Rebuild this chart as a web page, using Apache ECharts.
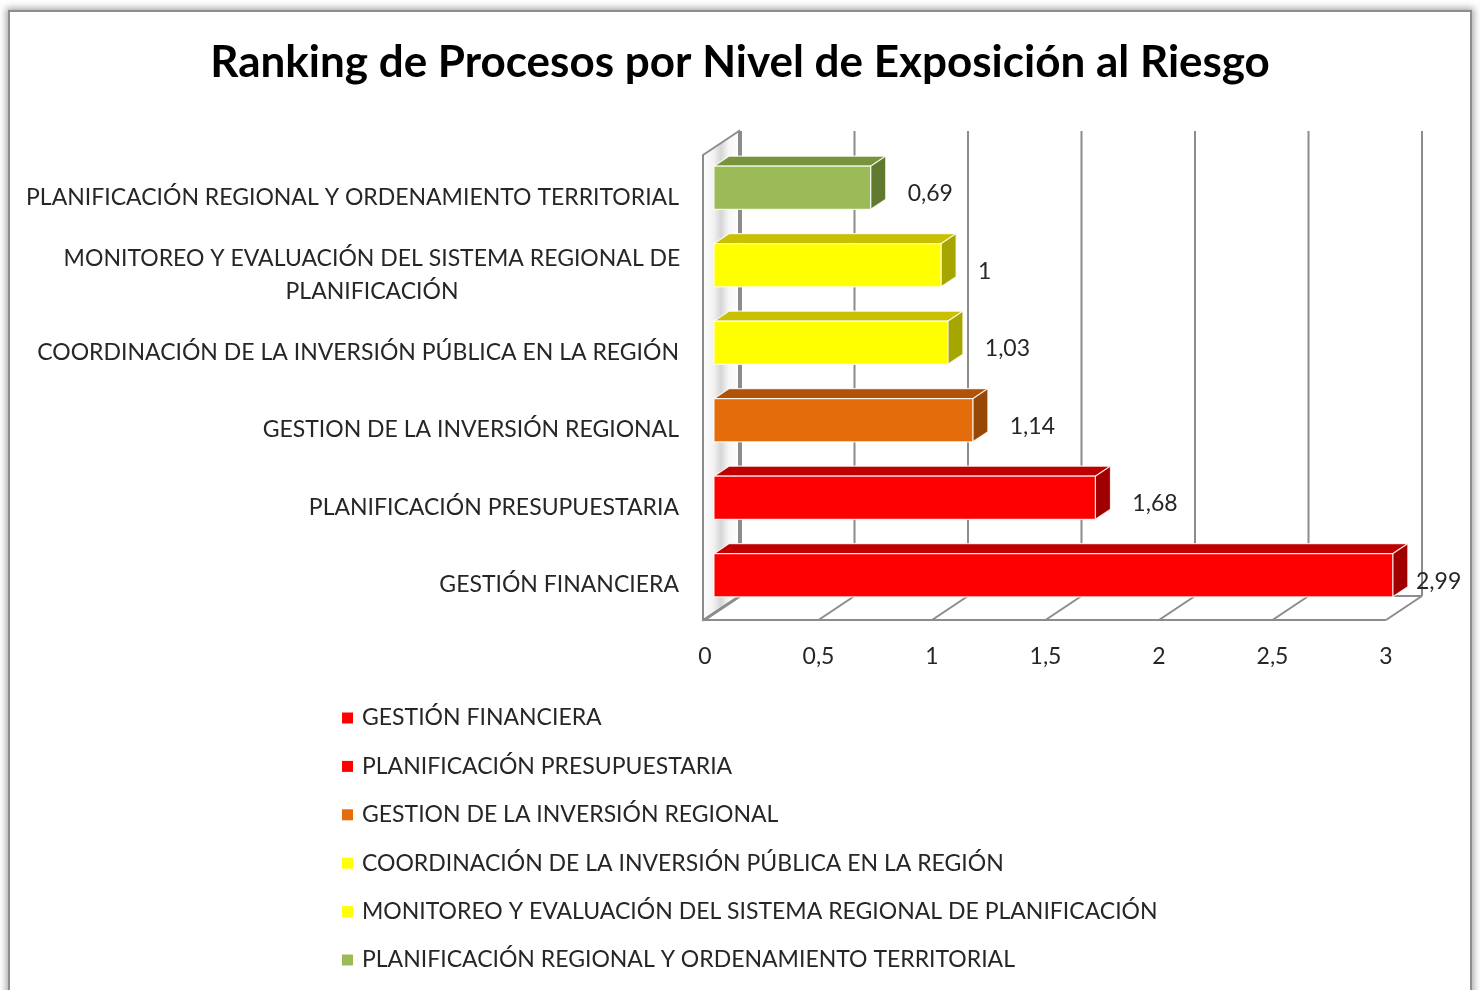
<!DOCTYPE html>
<html>
<head>
<meta charset="utf-8">
<script src="https://cdn.jsdelivr.net/npm/echarts@6/dist/echarts.min.js"></script>
<style>
    html, body { margin: 0; padding: 0; background: #fff; }
    #frame {
        position: absolute; left: 8px; top: 10px; width: 1460px; height: 990px;
        border: 2px solid #8d8d8d; background: #fff;
        box-shadow: 0 0 7px 2px rgba(0, 0, 0, 0.35);
    }
    #chart { position: absolute; left: 0; top: 0; width: 1480px; height: 990px; }
</style>
</head>
<body>
<div id="frame"></div>
<div id="chart"></div>
<script>
// datos (de abajo hacia arriba en el eje)
const categories = [
    'GESTIÓN FINANCIERA',
    'PLANIFICACIÓN PRESUPUESTARIA',
    'GESTION DE LA INVERSIÓN REGIONAL',
    'COORDINACIÓN DE LA INVERSIÓN PÚBLICA EN LA REGIÓN',
    'MONITOREO Y EVALUACIÓN DEL SISTEMA REGIONAL DE PLANIFICACIÓN',
    'PLANIFICACIÓN REGIONAL Y ORDENAMIENTO TERRITORIAL'
];
const values = [2.99, 1.68, 1.14, 1.03, 1, 0.69];
const xTicks = [0, 0.5, 1, 1.5, 2, 2.5, 3];

// colores: frente, tapa, lado
const palette = [
    ['#FF0000', '#C00000', '#A00000'],
    ['#FF0000', '#C00000', '#A00000'],
    ['#E46C0A', '#B0520A', '#974706'],
    ['#FFFF00', '#C8C000', '#A6A600'],
    ['#FFFF00', '#C8C000', '#A6A600'],
    ['#9BBB59', '#77933C', '#5F7A2E']
];

const FONT = 'Lato';
const TXT = '#262626';
const DEPTH = [36, -24];   // profundidad del efecto 3D
const BAR_FRONT = 0.25, BAR_BACK = 0.67;
const fmt = v => String(v).replace('.', ',');

function renderFrame(params, api) {
    const cs = params.coordSys;
    const t = api.value(0);
    const x = api.coord([t, 0])[0];
    const top = cs.y, bottom = cs.y + cs.height;
    const line = { stroke: '#8c8c8c', lineWidth: 2 };
    const children = [
        // linea de la pared del fondo
        { type: 'line', shape: { x1: x + DEPTH[0], y1: top + DEPTH[1], x2: x + DEPTH[0], y2: bottom + DEPTH[1] }, style: line },
        // linea del piso
        { type: 'line', shape: { x1: x, y1: bottom, x2: x + DEPTH[0], y2: bottom + DEPTH[1] }, style: line }
    ];
    if (params.dataIndex === 0) {
        const x0 = cs.x - 2, x1 = cs.x + cs.width;
        children.unshift({
            type: 'polygon',
            shape: { points: [[x0, top], [x0 + DEPTH[0], top + DEPTH[1]], [x0 + DEPTH[0], bottom + DEPTH[1]], [x0, bottom]] },
            style: {
                fill: new echarts.graphic.LinearGradient(0, 0, 1, 0, [
                    { offset: 0, color: '#ffffff' },
                    { offset: 0.3, color: '#f2f2f2' },
                    { offset: 0.5, color: '#d6d6d6' },
                    { offset: 0.7, color: '#f6f6f6' },
                    { offset: 1, color: '#ffffff' }
                ]),
                stroke: '#8c8c8c', lineWidth: 2
            }
        });
        children.push(
            { type: 'line', shape: { x1: x0, y1: bottom, x2: x1, y2: bottom }, style: line },
            { type: 'line', shape: { x1: x0 + DEPTH[0], y1: bottom + DEPTH[1], x2: x1 + DEPTH[0], y2: bottom + DEPTH[1] }, style: line }
        );
    }
    return { type: 'group', children: children };
}

function makeBarRenderer(colors) {
    return function (params, api) {
        const cs = params.coordSys;
        const v = api.value(0), idx = api.value(1);
        const p0 = api.coord([0, idx]), p1 = api.coord([v, idx]);
        const half = api.size([0, 1])[1] * 0.278;
        const fx = DEPTH[0] * BAR_FRONT, fy = DEPTH[1] * BAR_FRONT;
        const dx = DEPTH[0] * (BAR_BACK - BAR_FRONT), dy = DEPTH[1] * (BAR_BACK - BAR_FRONT);
        const xl = p0[0] + fx, xr = p1[0] + fx;
        const yt = p0[1] + fy - half, yb = p0[1] + fy + half;
        const edge = { stroke: 'rgba(255,255,255,0.8)', lineWidth: 1.2 };
        const labelX = Math.min(p1[0] + 46, cs.x + cs.width + 30);
        return {
            type: 'group',
            children: [
                { type: 'polygon', shape: { points: [[xl, yt], [xl + dx, yt + dy], [xr + dx, yt + dy], [xr, yt]] },
                  style: Object.assign({ fill: colors[1] }, edge) },
                { type: 'polygon', shape: { points: [[xr, yt], [xr + dx, yt + dy], [xr + dx, yb + dy], [xr, yb]] },
                  style: Object.assign({ fill: colors[2] }, edge) },
                { type: 'rect', shape: { x: xl, y: yt, width: xr - xl, height: yb - yt },
                  style: Object.assign({ fill: colors[0] }, edge) },
                { type: 'text', style: {
                    text: fmt(v), x: labelX, y: p0[1],
                    fill: TXT, fontSize: 23, fontFamily: FONT,
                    align: 'left', verticalAlign: 'middle'
                } }
            ]
        };
    };
}

const chart = echarts.init(document.getElementById('chart'), null, { renderer: 'canvas' });

const series = [{
    name: 'marco',
    type: 'custom',
    renderItem: renderFrame,
    data: xTicks.map(t => [t]),
    encode: { x: 0 },
    silent: true,
    z: 1
}];
categories.forEach((name, i) => {
    series.push({
        name: name,
        type: 'custom',
        renderItem: makeBarRenderer(palette[i]),
        itemStyle: { color: palette[i][0] },
        data: [[values[i], i]],
        encode: { x: 0, y: 1 },
        z: 2
    });
});

chart.setOption({
    animation: false,
    title: {
        text: 'Ranking de Procesos por Nivel de Exposición al Riesgo',
        left: 'center',
        top: 36,
        textStyle: { fontSize: 44, fontWeight: 'bold', color: '#000', fontFamily: FONT }
    },
    legend: {
        data: categories,
        orient: 'vertical',
        left: 337,
        top: 700,
        icon: 'rect',
        itemWidth: 11,
        itemHeight: 11,
        itemGap: 22.4,
        textStyle: { fontSize: 23, color: TXT, fontFamily: FONT, lineHeight: 26, padding: [0, 0, 0, 4] }
    },
    grid: { left: 705, right: 94, top: 155, bottom: 370 },
    xAxis: {
        type: 'value',
        min: 0, max: 3, interval: 0.5,
        axisLine: { show: false },
        axisTick: { show: false },
        splitLine: { show: false },
        axisLabel: {
            margin: 25,
            fontSize: 23, color: TXT, fontFamily: FONT,
            formatter: fmt
        }
    },
    yAxis: {
        type: 'category',
        data: categories,
        axisLine: { show: false },
        axisTick: { show: false },
        axisLabel: {
            margin: 26,
            padding: [7, 0, 0, 0],
            fontSize: 23, color: TXT, fontFamily: FONT,
            formatter: function (name) {
                if (name.length > 55) {
                    return '{c|MONITOREO Y EVALUACIÓN DEL SISTEMA REGIONAL DE}\n{c|PLANIFICACIÓN}';
                }
                return name;
            },
            rich: {
                c: { width: 614, align: 'center', fontSize: 23, color: TXT, fontFamily: FONT, lineHeight: 33 }
            }
        }
    },
    series: series
});
</script>
</body>
</html>
